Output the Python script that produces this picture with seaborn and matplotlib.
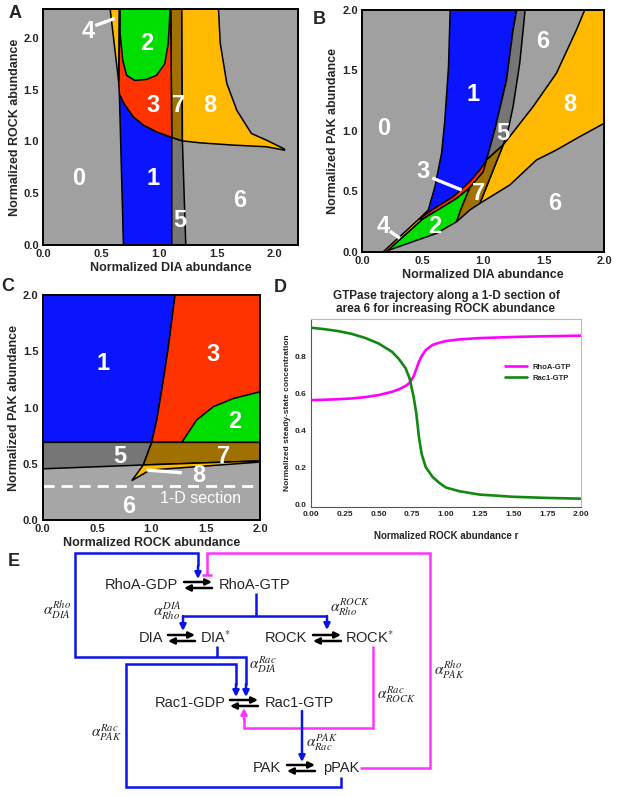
import numpy as np
import pandas as pd
import matplotlib
matplotlib.use("Agg")
import matplotlib.pyplot as plt
import seaborn as sns

# ---------------- data ----------------
GRAY = "#a0a0a0"
DGRAY = "#767676"
BLUE = "#0a14ff"
RED = "#ff3300"
GREEN = "#00dd00"
ORANGE = "#ffb900"
BROWN = "#a07000"

# panel A regions (DIA, ROCK)
a1_x = [0.693, 0.658, 0.698, 0.779, 0.866, 0.981, 1.111, 1.111]
a1_y = [0.0, 1.46, 1.367, 1.238, 1.158, 1.093, 1.039, 0.0]
a5_x = [1.111, 1.232, 1.203, 1.111]
a5_y = [0.0, 0.0, 1.006, 1.039]
a7_x = [1.111, 1.203, 1.198, 1.102]
a7_y = [1.039, 1.006, 2.28, 2.28]
a3_x = [0.658, 0.698, 0.779, 0.866, 0.981, 1.111, 1.102, 0.664, 0.652]
a3_y = [1.46, 1.367, 1.238, 1.158, 1.093, 1.039, 2.28, 2.28, 1.575]
a2_x = [0.664, 0.664, 0.687, 0.72, 0.79, 0.895, 0.98, 1.05, 1.08, 1.097]
a2_y = [2.28, 2.04, 1.785, 1.64, 1.59, 1.60, 1.64, 1.75, 1.945, 2.28]
a4_x = [0.578, 0.656, 0.652]
a4_y = [2.28, 2.28, 1.575]
a8_x = [1.203, 1.356, 1.645, 1.93, 2.09, 2.08, 1.93, 1.80, 1.674, 1.587, 1.53, 1.515, 1.198]
a8_y = [1.006, 0.987, 0.965, 0.949, 0.916, 0.93, 1.013, 1.077, 1.30, 1.56, 1.95, 2.28, 2.28]

# panel B regions (DIA, PAK)
b1_x = [0.728, 0.714, 0.684, 0.657, 0.602, 0.547, 0.47, 0.6, 0.753, 0.89, 0.973, 1.028, 1.096, 1.193, 1.247, 1.277]
b1_y = [2.0, 1.53, 1.09, 0.815, 0.538, 0.345, 0.27, 0.36, 0.455, 0.58, 0.676, 0.76, 1.007, 1.42, 1.835, 2.0]
b5_x = [1.277, 1.346, 1.33, 1.302, 1.247, 1.206, 1.165, 1.028, 1.096, 1.193, 1.247]
b5_y = [2.0, 2.0, 1.835, 1.56, 1.2, 1.007, 0.883, 0.76, 1.007, 1.42, 1.835]
b8_x = [1.838, 2.0, 2.0, 1.797, 1.605, 1.44, 1.22, 0.973, 1.165, 1.412, 1.605, 1.77]
b8_y = [2.0, 2.0, 1.063, 0.952, 0.842, 0.759, 0.552, 0.40, 0.883, 1.2, 1.477, 1.835]
b3_x = [0.47, 0.6, 0.753, 0.89, 0.973, 1.028, 1.0, 0.89, 0.78, 0.65, 0.5]
b3_y = [0.27, 0.36, 0.455, 0.58, 0.676, 0.76, 0.66, 0.53, 0.44, 0.36, 0.27]
b2_x = [0.2, 0.5, 0.65, 0.78, 0.89, 0.82, 0.781, 0.616, 0.341, 0.185]
b2_y = [0.0, 0.27, 0.36, 0.44, 0.53, 0.36, 0.248, 0.152, 0.055, 0.0]
b7_x = [1.028, 1.165, 0.973, 0.89, 0.781, 0.82, 0.89, 1.0]
b7_y = [0.76, 0.883, 0.40, 0.345, 0.248, 0.36, 0.53, 0.66]
b4_x = [0.176, 0.47, 0.5, 0.2]
b4_y = [0.0, 0.27, 0.27, 0.0]

# panel C regions (ROCK, PAK)
c1_x = [0.0, 1.218, 1.157, 1.11, 1.05, 1.003, 0.0]
c1_y = [2.0, 2.0, 1.54, 1.24, 0.89, 0.69, 0.69]
c3_x = [1.218, 2.0, 2.0, 1.28, 1.003, 1.05, 1.11, 1.157]
c3_y = [2.0, 2.0, 0.69, 0.69, 0.69, 0.89, 1.24, 1.54]
c2_x = [1.28, 1.417, 1.57, 1.755, 2.0, 2.0]
c2_y = [0.69, 0.889, 1.007, 1.08, 1.14, 0.69]
c5_x = [0.0, 1.003, 0.926, 0.0]
c5_y = [0.69, 0.69, 0.489, 0.455]
c7_x = [1.003, 2.0, 2.0, 0.926]
c7_y = [0.69, 0.69, 0.525, 0.489]
c8_x = [0.926, 2.0, 2.0, 0.987, 0.82]
c8_y = [0.489, 0.525, 0.515, 0.444, 0.35]
section_y = 0.3

# panel D trajectory
r_vals = [0, 0.1, 0.2, 0.3, 0.4, 0.5, 0.6, 0.65, 0.7, 0.73, 0.76, 0.78, 0.8, 0.82,
          0.85, 0.9, 0.95, 1.0, 1.1, 1.25, 1.5, 1.75, 2.0]
rhoa_gtp = [0.562, 0.564, 0.567, 0.571, 0.578, 0.589, 0.607, 0.62, 0.638, 0.655, 0.69,
            0.73, 0.77, 0.80, 0.832, 0.86, 0.872, 0.881, 0.89, 0.897, 0.903, 0.907, 0.91]
rac1_gtp = [0.953, 0.945, 0.935, 0.92, 0.898, 0.868, 0.823, 0.785, 0.735, 0.68, 0.58,
            0.49, 0.36, 0.27, 0.20, 0.148, 0.115, 0.09, 0.07, 0.052, 0.04, 0.034, 0.03]

# panel E network (pixel coords)
species = ["RhoA-GDP", "RhoA-GTP", "DIA", "DIA$^{*}$", "ROCK", "ROCK$^{*}$",
           "Rac1-GDP", "Rac1-GTP", "PAK", "pPAK"]
species_x = [141, 255, 151, 216, 286, 369, 190, 299, 267, 341]
species_y = [585, 585, 638, 638, 638, 638, 703, 703, 768, 768]
rev_x1 = [184, 168, 313, 230, 287]
rev_x2 = [212, 195, 341, 258, 315]
rev_y = [585, 638, 638, 703, 768]
alphas = [r"$\alpha^{Rho}_{DIA}$", r"$\alpha^{DIA}_{Rho}$", r"$\alpha^{ROCK}_{Rho}$",
          r"$\alpha^{Rac}_{DIA}$", r"$\alpha^{Rac}_{PAK}$", r"$\alpha^{Rac}_{ROCK}$",
          r"$\alpha^{Rho}_{PAK}$", r"$\alpha^{PAK}_{Rac}$"]
alpha_x = [57, 167, 350, 263, 107, 397, 450, 322]
alpha_y = [610, 611, 607, 665, 733, 695, 670, 743]

# ---------------- style ----------------
sns.set_style("white")
plt.rcParams['font.family'] = ['Liberation Sans', 'DejaVu Sans']
plt.rcParams['mathtext.fontset'] = 'stix'

fig = plt.figure(figsize=(6.17, 7.96), dpi=100)

W, H = 617.0, 796.0


def box(l, t, r, b):
    return [l / W, 1 - b / H, (r - l) / W, (b - t) / H]


def region_axes(ax, xlim, ylim, xlabel, ylabel, xt, yt):
    ax.set_facecolor(GRAY)
    ax.set_xlim(*xlim)
    ax.set_ylim(*ylim)
    ax.set_xticks(xt)
    ax.set_yticks(yt)
    ax.set_xticklabels(["%.1f" % v for v in xt], fontsize=8, fontweight="bold")
    ax.set_yticklabels(["%.1f" % v for v in yt], fontsize=8, fontweight="bold")
    ax.tick_params(length=2, width=0.8, pad=1)
    ax.set_xlabel(xlabel, fontsize=9, fontweight="bold", labelpad=2)
    ax.set_ylabel(ylabel, fontsize=9, fontweight="bold", labelpad=2)
    for s in ax.spines.values():
        s.set_color("black")
        s.set_linewidth(1.4)


def fill(ax, xs, ys, color):
    ax.fill(xs, ys, facecolor=color, edgecolor="black", lw=1.1)


def lab(ax, x, y, t, size=17):
    ax.text(x, y, t, color="white", fontsize=size, fontweight="bold",
            ha="center", va="center")


def pointer(ax, x0, y0, x1, y1):
    ax.plot([x0, x1], [y0, y1], color="white", lw=2.4, solid_capstyle="butt")


# ---- panel A ----
axA = fig.add_axes(box(43.3, 9, 297.7, 245))
region_axes(axA, (0, 2.2), (0, 2.28), "Normalized DIA abundance",
            "Normalized ROCK abundance", [0, 0.5, 1.0, 1.5, 2.0], [0, 0.5, 1.0, 1.5, 2.0])
fill(axA, a1_x, a1_y, BLUE)
fill(axA, a5_x, a5_y, DGRAY)
fill(axA, a7_x, a7_y, BROWN)
fill(axA, a3_x, a3_y, RED)
fill(axA, a2_x, a2_y, GREEN)
fill(axA, a4_x, a4_y, ORANGE)
fill(axA, a8_x, a8_y, ORANGE)
for x, y, t in [(0.895, 1.945, "2"), (0.952, 1.35, "3"), (1.17, 1.35, "7"),
                (1.443, 1.35, "8"), (0.31, 0.643, "0"), (0.952, 0.643, "1"),
                (1.70, 0.434, "6"), (1.183, 0.24, "5"), (0.39, 2.06, "4")]:
    lab(axA, x, y, t)
pointer(axA, 0.45, 2.12, 0.62, 2.19)

# ---- panel B ----
axB = fig.add_axes(box(362, 10, 604.3, 251.7))
region_axes(axB, (0, 2.0), (0, 2.0), "Normalized DIA abundance",
            "Normalized PAK abundance", [0, 0.5, 1.0, 1.5, 2.0], [0, 0.5, 1.0, 1.5, 2.0])
fill(axB, b1_x, b1_y, BLUE)
fill(axB, b5_x, b5_y, DGRAY)
fill(axB, b8_x, b8_y, ORANGE)
fill(axB, b3_x, b3_y, RED)
fill(axB, b2_x, b2_y, GREEN)
fill(axB, b7_x, b7_y, BROWN)
fill(axB, b4_x, b4_y, ORANGE)
for x, y, t in [(0.176, 1.02, "0"), (0.918, 1.297, "1"), (1.495, 1.739, "6"),
                (1.715, 1.214, "8"), (1.165, 0.98, "5"), (0.506, 0.662, "3"),
                (0.959, 0.483, "7"), (1.59, 0.40, "6"), (0.6, 0.207, "2"),
                (0.176, 0.207, "4")]:
    lab(axB, x, y, t)
pointer(axB, 0.58, 0.61, 0.822, 0.511)
pointer(axB, 0.23, 0.17, 0.313, 0.111)

# ---- panel C ----
axC = fig.add_axes(box(42.7, 295, 260, 520))
region_axes(axC, (0, 2.0), (0, 2.0), "Normalized ROCK abundance",
            "Normalized PAK abundance", [0, 0.5, 1.0, 1.5, 2.0], [0, 0.5, 1.0, 1.5, 2.0])
axC.set_facecolor("#a6a6a6")
fill(axC, c1_x, c1_y, BLUE)
fill(axC, c3_x, c3_y, RED)
fill(axC, c2_x, c2_y, GREEN)
fill(axC, c5_x, c5_y, DGRAY)
fill(axC, c7_x, c7_y, BROWN)
fill(axC, c8_x, c8_y, ORANGE)
axC.axhline(section_y, color="white", lw=2, ls=(0, (4, 2.5)))
for x, y, t in [(0.558, 1.39, "1"), (1.57, 1.47, "3"), (1.77, 0.874, "2"),
                (0.71, 0.563, "5"), (1.663, 0.563, "7"), (1.433, 0.40, "8"),
                (0.79, 0.118, "6")]:
    lab(axC, x, y, t)
pointer(axC, 0.957, 0.444, 1.28, 0.42)
axC.text(1.448, 0.193, "1-D section", color="white", fontsize=11.5,
         ha="center", va="center")

# ---- panel D ----
axD = fig.add_axes(box(311, 319, 581, 507))
df = pd.DataFrame({"r": r_vals * 2,
                   "conc": rhoa_gtp + rac1_gtp,
                   "species": ["RhoA-GTP"] * len(r_vals) + ["Rac1-GTP"] * len(r_vals)})
sns.lineplot(data=df, x="r", y="conc", hue="species",
             palette={"RhoA-GTP": "#ff00ff", "Rac1-GTP": "#118811"},
             lw=1.9, ax=axD)
axD.set_xlim(0, 2.0)
axD.set_ylim(-0.015, 1.0)
axD.set_xticks(np.arange(0, 2.01, 0.25))
axD.set_xticklabels(["%.2f" % v for v in np.arange(0, 2.01, 0.25)], fontsize=6, fontweight="bold")
axD.set_yticks([0, 0.2, 0.4, 0.6, 0.8])
axD.set_yticklabels(["0.0", "0.2", "0.4", "0.6", "0.8"], fontsize=6, fontweight="bold")
axD.tick_params(length=2, width=0.6, pad=1)
axD.set_xlabel("Normalized ROCK abundance r", fontsize=7, fontweight="bold", labelpad=9)
axD.set_ylabel("Normalized steady-state concentration", fontsize=6, fontweight="bold", labelpad=3)
axD.set_title("GTPase trajectory along a 1-D section of\narea 6 for increasing ROCK abundance",
              fontsize=8.5, fontweight="bold", pad=5, linespacing=1.1)
for k, s in axD.spines.items():
    s.set_linewidth(0.8)
    s.set_color("#555555" if k in ("left", "bottom") else "#bbbbbb")
leg = axD.legend(loc="upper right", bbox_to_anchor=(0.99, 0.80), frameon=False,
                 fontsize=5.5, handlelength=2.8, labelspacing=0.5, title=None)
for t in leg.get_texts():
    t.set_fontweight("bold")

# ---- panel E (network diagram) ----
axE = fig.add_axes([0, 0, 1, 1], zorder=-1)
axE.set_xlim(0, W)
axE.set_ylim(H, 0)
axE.axis("off")
axE.patch.set_alpha(0)

BL = "#0a14e6"
MG = "#ff33ff"


def path(pts, color, lw=1.8):
    xs = [p[0] for p in pts]
    ys = [p[1] for p in pts]
    axE.plot(xs, ys, color=color, lw=lw, solid_capstyle="butt", solid_joinstyle="miter")


def arrow(x0, y0, x1, y1, color, lw=1.8):
    axE.annotate("", xy=(x1, y1), xytext=(x0, y0),
                 arrowprops=dict(arrowstyle="-|>", color=color, lw=lw,
                                 mutation_scale=9, shrinkA=0, shrinkB=0))


for x, y, t in zip(species_x, species_y, species):
    axE.text(x, y, t, fontsize=10.5, ha="center", va="center")
for x1, x2, y in zip(rev_x1, rev_x2, rev_y):
    arrow(x1, y - 3, x2, y - 3, "black", lw=1.8)
    arrow(x2, y + 3, x1, y + 3, "black", lw=1.8)
for x, y, t in zip(alpha_x, alpha_y, alphas):
    axE.text(x, y, t, fontsize=11, ha="center", va="center")

# blue outer loop DIA* -> RhoA and Rac1
path([(198, 566), (198, 553), (75, 553), (75, 657), (246, 657), (246, 685)], BL)
arrow(198, 566, 198, 579, BL)
arrow(246, 684, 246, 697, BL)
path([(217, 646), (217, 657)], BL)
# RhoA-GTP -> DIA, ROCK
path([(256, 593), (256, 616)], BL)
path([(183, 616), (327, 616)], BL)
arrow(183, 616, 183, 631, BL)
arrow(327, 616, 327, 630, BL)
# pPAK loop
path([(341, 777), (341, 787), (126, 787), (126, 664), (236, 664), (236, 685)], BL)
arrow(236, 684, 236, 697, BL)
# Rac1-GTP -> PAK
arrow(302, 711, 302, 762, BL)
# magenta inhibition from pPAK
path([(360, 768), (430, 768), (430, 553), (207, 553), (207, 575)], MG)
path([(202, 575), (212, 575)], MG)
# ROCK* -> Rac1
path([(373, 646), (373, 728), (244, 728), (244, 718)], MG)
arrow(244, 719, 244, 708, MG)

# panel letters
for x, y, t in [(15, 14, "A"), (319, 19, "B"), (8, 286, "C"), (280, 287, "D"), (14, 561, "E")]:
    fig.text(x / W, 1 - y / H, t, fontsize=13, fontweight="bold", ha="center", va="center")

fig.savefig("out.png", dpi=100)
